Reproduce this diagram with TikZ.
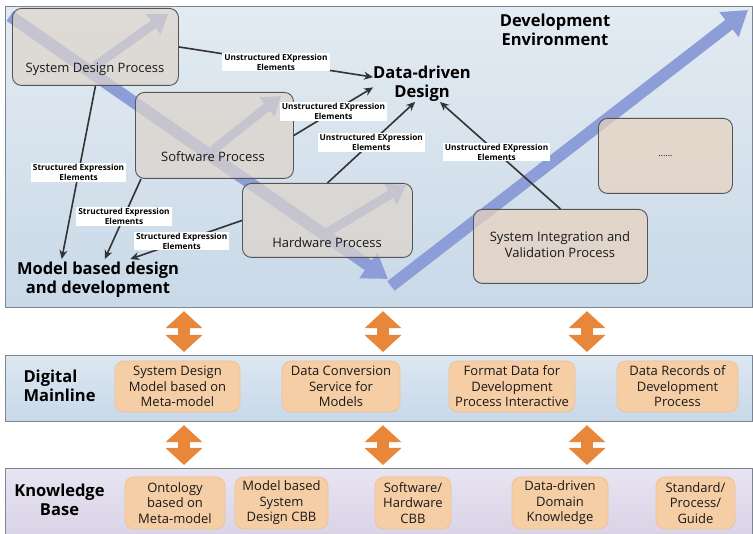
\documentclass[tikz,border=0pt]{standalone}
\usepackage{fontspec}
\setmainfont{Open Sans}
\definecolor{envtop}{HTML}{E3EBF2}
\definecolor{envbot}{HTML}{C9D9E8}
\definecolor{mltop}{HTML}{DCE7F1}
\definecolor{mlbot}{HTML}{C8D8E8}
\definecolor{kbtop}{HTML}{E8E4F1}
\definecolor{kbbot}{HTML}{D8D2E6}
\definecolor{panelline}{HTML}{7D8690}
\definecolor{bandblue}{HTML}{8C9DD8}
\definecolor{procfill}{HTML}{DDD4CB}
\definecolor{peachfill}{HTML}{E9D3C0}
\definecolor{boxline}{HTML}{555555}
\definecolor{pillfill}{HTML}{F6CEA6}
\definecolor{pillline}{HTML}{F0C296}
\definecolor{orangecol}{HTML}{E8873A}
\definecolor{linkcol}{HTML}{333333}
\usetikzlibrary{arrows.meta}

\tikzset{
  panel/.style={draw=panelline, line width=1.2pt, anchor=north west, inner sep=0pt},
  procbox/.style={draw=boxline, line width=0.9pt, rounded corners=9pt, fill=procfill,
    fill opacity=0.72, anchor=north west, inner sep=0pt},
  proctext/.style={font=\fontsize{13}{16}\selectfont, align=center, text=black!90},
  pill/.style={fill=pillfill, draw=pillline, line width=0.8pt, rounded corners=9pt,
    align=center, inner sep=0pt, font=\fontsize{13}{15.5}\selectfont, text=black!90},
  headtext/.style={font=\bfseries\fontsize{16.5}{19}\selectfont, align=center},
  lbl/.style={fill=white, inner xsep=2pt, inner ysep=1pt, align=center,
    font=\bfseries\fontsize{8.3}{9.8}\selectfont, text=black},
  link/.style={draw=linkcol, line width=1.6pt, -{Stealth[length=9pt,width=8pt]}},
  band/.style={bandblue, line width=12pt, -{Triangle[width=30pt,length=24pt]}},
  subband/.style={bandblue, line width=9pt, -{Triangle[width=24pt,length=18pt]}},
  dbarrow/.style={orangecol, line width=12pt,
    {Triangle[width=36pt,length=17pt]}-{Triangle[width=36pt,length=17pt]},
    shorten <=3pt, shorten >=3pt},
}

\begin{document}
\begin{tikzpicture}[x=1pt, y=-1pt]
\useasboundingbox (0,0) rectangle (753,534);
\clip (0,0) rectangle (753,534);

% === PART 1: Development environment ===
\node[panel, top color=envtop, bottom color=envbot,
  minimum width=747pt, minimum height=301pt] (devenv) at (5,6) {};

% V-shaped flow band behind the processes
\draw[band] (10,16) -- (388,279);
\draw[band] (391,286) -- (748,10);
\draw[subband] (95,66) -- (168,14);
\draw[subband] (213,150) -- (281,96);
\draw[subband] (328,232) -- (406,185);

\node[procbox, minimum width=166pt, minimum height=77pt] (sdp) at (12,8) {};
\node[proctext] at (95,69) {System Design Process};
\node[procbox, minimum width=158pt, minimum height=86pt] (swp) at (135,92) {};
\node[proctext] at (213,157) {Software Process};
\node[procbox, minimum width=170pt, minimum height=74pt] (hwp) at (242,183) {};
\node[proctext] at (327,243) {Hardware Process};
\node[procbox, fill=peachfill, minimum width=174pt, minimum height=74pt] (sivp) at (473,209) {};
\node[proctext] at (560,245) {System Integration and\\Validation Process};
\node[procbox, fill=peachfill, minimum width=134pt, minimum height=75pt] (more) at (598,118) {};
\node[proctext, font=\fontsize{9}{10}\selectfont] at (more.center) {......};

\node[headtext] (devtitle) at (555,30) {Development\\Environment};
\node[headtext, inner sep=0pt] (ddd) at (422,84) {Data-driven\\Design};
\node[headtext, inner sep=3pt] (mbd) at (98,280) {Model based design\\and development};

% unstructured links into data-driven design
\draw[link] (sdp.east) -- node[lbl] {Unstructured EXpression\\Elements} (ddd.172);
\draw[link] (swp.east) -- node[lbl] {Unstructured EXpression\\Elements} (ddd.184);
\draw[link] (hwp.north) -- node[lbl] {Unstructured EXpression\\Elements} (ddd.249);
\draw[link] (sivp.north) -- node[lbl, pos=0.53] {Unstructured EXpression\\Elements} (ddd.315);

% structured links into model based design
\draw[link] (sdp.south) -- node[lbl] {Structured Expression\\Elements} (mbd.150);
\draw[link] ([xshift=6pt]swp.south west) -- node[lbl, pos=0.47] {Structured Expression\\Elements} (mbd.72);
\draw[link] (hwp.west) -- node[lbl, pos=0.54] {Structured Expression\\Elements} (mbd.33);

% === PART 2: Digital mainline ===
\node[panel, top color=mltop, bottom color=mlbot,
  minimum width=747pt, minimum height=66pt] (mainline) at (5,355) {};
\node[headtext, align=left, anchor=west] at (20,386) {Digital\\Mainline};

\node[pill, minimum width=125pt, minimum height=51pt] (sdmodel) at (177.5,386.5)
  {System Design\\Model based on\\Meta-model};
\node[pill, minimum width=118pt, minimum height=51pt] (convert) at (341,386.5)
  {Data Conversion\\Service for\\Models};
\node[pill, minimum width=126pt, minimum height=51pt] (format) at (512,386.5)
  {Format Data for\\Development\\Process Interactive};
\node[pill, minimum width=121pt, minimum height=51pt] (records) at (677.5,386.5)
  {Data Records of\\Development\\Process};

% === PART 3: Knowledge base ===
\node[panel, top color=kbtop, bottom color=kbbot,
  minimum width=747pt, minimum height=72pt] (knowbase) at (5,468) {};
\node[headtext] at (59.5,500) {Knowledge\\Base};

\node[pill, minimum width=100pt, minimum height=52pt] (onto) at (175,503)
  {Ontology\\based on\\Meta-model};
\node[pill, minimum width=93pt, minimum height=52pt] (cbbsys) at (281.5,503)
  {Model based\\System\\Design CBB};
\node[pill, minimum width=76pt, minimum height=52pt] (cbbswhw) at (413,503)
  {Software/\\Hardware\\CBB};
\node[pill, minimum width=96pt, minimum height=52pt] (domain) at (560,503)
  {Data-driven\\Domain\\Knowledge};
\node[pill, minimum width=79pt, minimum height=52pt] (guide) at (695.5,503)
  {Standard/\\Process/\\Guide};

% === Orange exchange arrows between layers ===
\foreach \xx in {184,383,587} {
  \coordinate (ax) at (\xx,0);
  \draw[dbarrow] (devenv.south -| ax) -- (mainline.north -| ax);
  \draw[dbarrow] (mainline.south -| ax) -- (knowbase.north -| ax);
}

\end{tikzpicture}
\end{document}
